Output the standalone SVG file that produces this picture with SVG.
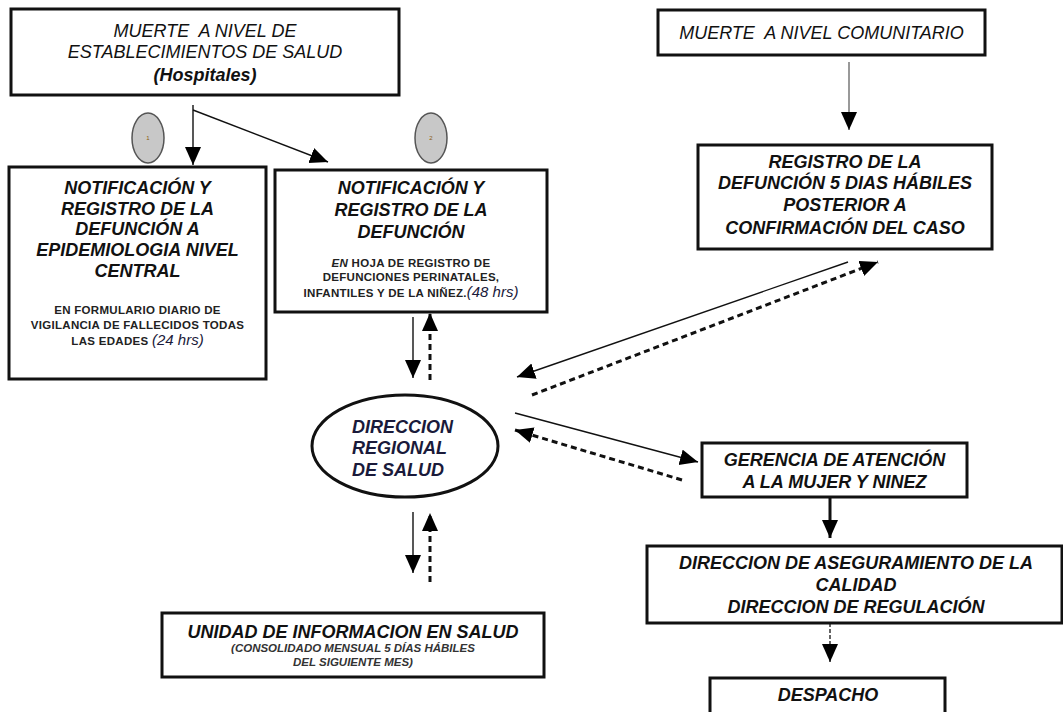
<svg xmlns="http://www.w3.org/2000/svg" width="1063" height="712" viewBox="0 0 1063 712">
<style>
text{font-family:"Liberation Sans",Arial,sans-serif;fill:#111;text-anchor:middle}
.t{font-size:18px;font-style:italic}
.tb{font-size:18px;font-style:italic;font-weight:bold}
.s{font-size:11.5px;font-weight:bold;fill:#222;letter-spacing:0.3px}
.si{font-size:11.5px;font-weight:bold;font-style:italic;fill:#333}
.h{font-size:15px;font-style:italic;font-weight:normal;fill:#1a1a3a;letter-spacing:0}
.box{fill:#fff;stroke:#111;stroke-width:3}
.badge{fill:#c8c8c8;stroke:#555;stroke-width:1.5}
.ln{fill:none;stroke:#111;stroke-width:1.4}
.dl{fill:none;stroke:#111;stroke-width:3;stroke-dasharray:6 4}
</style>
<defs>
<marker id="ah" markerUnits="userSpaceOnUse" markerWidth="20" markerHeight="18" refX="18" refY="8" orient="auto">
<path d="M0,0 L18,8 L0,16 z" fill="#000"/>
</marker>
</defs>
<g id="connectors">
<line class="ln" x1="193" y1="105" x2="193" y2="165" marker-end="url(#ah)"/>
<line class="ln" x1="193" y1="110" x2="328" y2="162" marker-end="url(#ah)"/>
<line x1="849" y1="62" x2="849" y2="130" stroke="#999" stroke-width="2" marker-end="url(#ah)"/>
<line class="ln" x1="413" y1="317" x2="413" y2="378" marker-end="url(#ah)"/>
<line class="dl" x1="430" y1="380" x2="430" y2="313" marker-end="url(#ah)"/>
<line class="ln" x1="848" y1="262" x2="517" y2="377" marker-end="url(#ah)"/>
<line class="dl" x1="532" y1="395" x2="878" y2="262" marker-end="url(#ah)"/>
<line class="ln" x1="515" y1="413" x2="698" y2="462" marker-end="url(#ah)"/>
<line class="dl" x1="682" y1="480" x2="515" y2="430" marker-end="url(#ah)"/>
<line class="ln" x1="413" y1="512" x2="413" y2="573" marker-end="url(#ah)"/>
<line class="dl" x1="430" y1="582" x2="430" y2="513" marker-end="url(#ah)"/>
<line x1="830" y1="497" x2="830" y2="538" stroke="#111" stroke-width="3" marker-end="url(#ah)"/>
<line x1="830" y1="623" x2="830" y2="662" stroke="#333" stroke-width="1.5" stroke-dasharray="4 2" marker-end="url(#ah)"/>
</g>
<g id="muerte-establecimientos">
<rect class="box" x="11" y="9" width="388" height="86"/>
<text class="t" x="205" y="37">MUERTE&#160; A NIVEL DE</text>
<text class="t" x="205" y="58">ESTABLECIMIENTOS DE SALUD</text>
<text class="tb" x="205" y="81">(Hospitales)</text>
</g>
<g id="badge-1">
<ellipse class="badge" cx="148" cy="138" rx="16" ry="25"/>
<text x="148" y="140" style="font-size:6px;fill:#8a5a10">1</text>
</g>
<g id="badge-2">
<ellipse class="badge" cx="431" cy="138" rx="16" ry="25"/>
<text x="431" y="140" style="font-size:6px;fill:#8a5a10">2</text>
</g>
<g id="notificacion-epidemiologia">
<rect class="box" x="9" y="167" width="257" height="212"/>
<text class="tb" x="137.5" y="194">NOTIFICACIÓN Y</text>
<text class="tb" x="137.5" y="215">REGISTRO DE LA</text>
<text class="tb" x="137.5" y="235">DEFUNCIÓN A</text>
<text class="tb" x="137.5" y="256">EPIDEMIOLOGIA NIVEL</text>
<text class="tb" x="137.5" y="277">CENTRAL</text>
<text class="s" x="137.5" y="314">EN FORMULARIO DIARIO DE</text>
<text class="s" x="137.5" y="329">VIGILANCIA DE FALLECIDOS TODAS</text>
<text class="s" x="137.5" y="345">LAS EDADES <tspan class="h">(24 hrs)</tspan></text>
</g>
<g id="notificacion-registro">
<rect class="box" x="275" y="170" width="272" height="142"/>
<text class="tb" x="411" y="194">NOTIFICACIÓN Y</text>
<text class="tb" x="411" y="216">REGISTRO DE LA</text>
<text class="tb" x="411" y="238">DEFUNCIÓN</text>
<text class="s" x="411" y="267"><tspan style="font-style:italic">EN</tspan> HOJA DE REGISTRO DE</text>
<text class="s" x="411" y="281">DEFUNCIONES PERINATALES,</text>
<text class="s" x="411" y="297">INFANTILES Y DE LA NIÑEZ.<tspan class="h">(48 hrs)</tspan></text>
</g>
<g id="muerte-comunitario">
<rect class="box" x="658" y="10" width="327" height="45"/>
<text class="t" x="821.5" y="39">MUERTE&#160; A NIVEL COMUNITARIO</text>
</g>
<g id="registro-5-dias">
<rect class="box" x="698" y="145" width="294" height="104"/>
<text class="tb" x="845" y="168">REGISTRO DE LA</text>
<text class="tb" x="845" y="189">DEFUNCIÓN 5 DIAS HÁBILES</text>
<text class="tb" x="845" y="211">POSTERIOR A</text>
<text class="tb" x="845" y="234">CONFIRMACIÓN DEL CASO</text>
</g>
<g id="direccion-regional">
<ellipse cx="405" cy="446" rx="93" ry="51" fill="#fff" stroke="#111" stroke-width="3"/>
<text class="tb" x="352" y="433" style="text-anchor:start;fill:#1a1a3a">DIRECCION</text>
<text class="tb" x="352" y="454" style="text-anchor:start;fill:#1a1a3a">REGIONAL</text>
<text class="tb" x="352" y="476" style="text-anchor:start;fill:#1a1a3a">DE SALUD</text>
</g>
<g id="gerencia">
<rect class="box" x="702" y="443" width="265" height="54"/>
<text class="tb" x="834.5" y="466">GERENCIA DE ATENCIÓN</text>
<text class="tb" x="834.5" y="488">A LA MUJER Y NINEZ</text>
</g>
<g id="aseguramiento">
<rect class="box" x="647" y="546" width="415" height="77"/>
<text class="tb" x="856" y="569">DIRECCION DE ASEGURAMIENTO DE LA</text>
<text class="tb" x="856" y="591">CALIDAD</text>
<text class="tb" x="856" y="613">DIRECCION DE REGULACIÓN</text>
</g>
<g id="despacho">
<rect class="box" x="710" y="678" width="235" height="40"/>
<text class="tb" x="828" y="701">DESPACHO</text>
</g>
<g id="unidad-informacion">
<rect class="box" x="162" y="613" width="382" height="64"/>
<text class="tb" x="353" y="638">UNIDAD DE INFORMACION EN SALUD</text>
<text class="si" x="353" y="652">(CONSOLIDADO MENSUAL 5 DÍAS HÁBILES</text>
<text class="si" x="353" y="666">DEL SIGUIENTE MES)</text>
</g>
</svg>
